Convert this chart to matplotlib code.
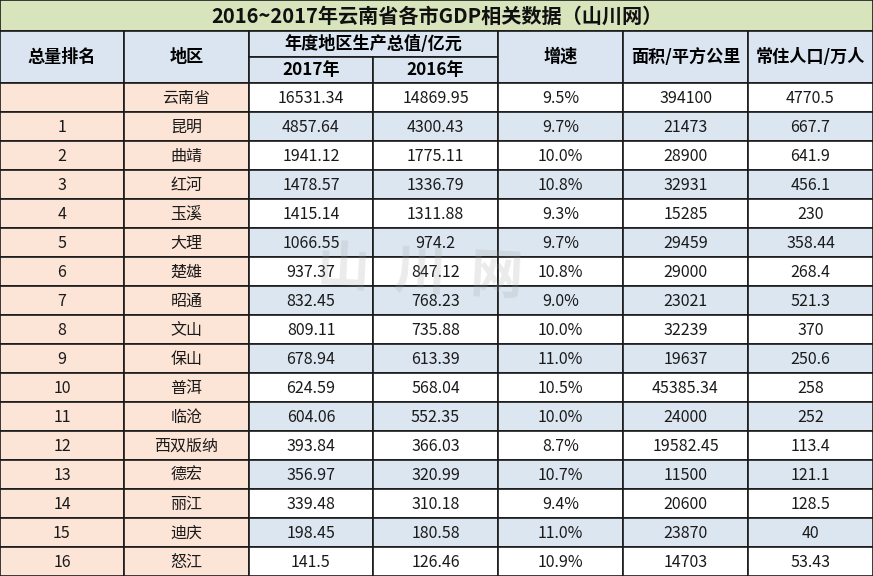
import matplotlib
matplotlib.use("Agg")
import matplotlib.pyplot as plt
from matplotlib.patches import Rectangle

plt.rcParams['font.family'] = ['Noto Sans CJK SC', 'DejaVu Sans']

# --------------------------
# Data
# --------------------------
title = "2016~2017年云南省各市GDP相关数据（山川网）"
ranks = ["", "1", "2", "3", "4", "5", "6", "7", "8", "9", "10",
         "11", "12", "13", "14", "15", "16"]
regions = ["云南省", "昆明", "曲靖", "红河", "玉溪", "大理", "楚雄", "昭通", "文山",
           "保山", "普洱", "临沧", "西双版纳", "德宏", "丽江", "迪庆", "怒江"]
gdp_2017 = ["16531.34", "4857.64", "1941.12", "1478.57", "1415.14", "1066.55",
            "937.37", "832.45", "809.11", "678.94", "624.59", "604.06",
            "393.84", "356.97", "339.48", "198.45", "141.5"]
gdp_2016 = ["14869.95", "4300.43", "1775.11", "1336.79", "1311.88", "974.2",
            "847.12", "768.23", "735.88", "613.39", "568.04", "552.35",
            "366.03", "320.99", "310.18", "180.58", "126.46"]
growth = ["9.5%", "9.7%", "10.0%", "10.8%", "9.3%", "9.7%", "10.8%", "9.0%",
          "10.0%", "11.0%", "10.5%", "10.0%", "8.7%", "10.7%", "9.4%",
          "11.0%", "10.9%"]
area = ["394100", "21473", "28900", "32931", "15285", "29459", "29000",
        "23021", "32239", "19637", "45385.34", "24000", "19582.45", "11500",
        "20600", "23870", "14703"]
population = ["4770.5", "667.7", "641.9", "456.1", "230", "358.44", "268.4",
              "521.3", "370", "250.6", "258", "252", "113.4", "121.1",
              "128.5", "40", "53.43"]

columns = [ranks, regions, gdp_2017, gdp_2016, growth, area, population]

# --------------------------
# Layout (pixel coordinates)
# --------------------------
W, H = 873, 576
col_x = [0, 124, 249, 373, 498, 623, 748, 873]
title_h = 31
head_bot = 83
head_mid = 57
row_h = (H - head_bot) / len(regions)

green = "#d8e4bc"
head_blue = "#dbe5f1"
peach = "#fce4d6"
blue = "#dce6f1"
line = "#1a1a1a"

fig = plt.figure(figsize=(W / 100, H / 100), dpi=100)
ax = fig.add_axes([0, 0, 1, 1])
ax.set_xlim(0, W)
ax.set_ylim(H, 0)
ax.axis("off")


def cell(x0, y0, x1, y1, color, lw=1.2):
    ax.add_patch(Rectangle((x0, y0), x1 - x0, y1 - y0, facecolor=color,
                           edgecolor=line, linewidth=lw))


# title row
cell(0, 0, W, title_h, green)
ax.text(W / 2, title_h / 2 + 1, title, ha="center", va="center",
        fontsize=14.5, fontweight="bold", color="#111111")

# header rows
head_fs = 12.3
cell(col_x[0], title_h, col_x[1], head_bot, head_blue)
cell(col_x[1], title_h, col_x[2], head_bot, head_blue)
cell(col_x[2], title_h, col_x[4], head_mid, head_blue)
cell(col_x[2], head_mid, col_x[3], head_bot, head_blue)
cell(col_x[3], head_mid, col_x[4], head_bot, head_blue)
for i in range(4, 7):
    cell(col_x[i], title_h, col_x[i + 1], head_bot, head_blue)

mid = (title_h + head_bot) / 2
ax.text((col_x[0] + col_x[1]) / 2, mid, "总量排名", ha="center", va="center",
        fontsize=head_fs, fontweight="bold")
ax.text((col_x[1] + col_x[2]) / 2, mid, "地区", ha="center", va="center",
        fontsize=head_fs, fontweight="bold")
ax.text((col_x[2] + col_x[4]) / 2, (title_h + head_mid) / 2, "年度地区生产总值/亿元",
        ha="center", va="center", fontsize=head_fs, fontweight="bold")
ax.text((col_x[2] + col_x[3]) / 2, (head_mid + head_bot) / 2, "2017年",
        ha="center", va="center", fontsize=head_fs, fontweight="bold")
ax.text((col_x[3] + col_x[4]) / 2, (head_mid + head_bot) / 2, "2016年",
        ha="center", va="center", fontsize=head_fs, fontweight="bold")
for i, name in zip(range(4, 7), ["增速", "面积/平方公里", "常住人口/万人"]):
    ax.text((col_x[i] + col_x[i + 1]) / 2, mid, name, ha="center",
            va="center", fontsize=head_fs, fontweight="bold")

# data rows
for r in range(len(regions)):
    y0 = head_bot + r * row_h
    y1 = y0 + row_h
    for c, values in enumerate(columns):
        if c < 2:
            bg = peach
        else:
            bg = blue if r % 2 == 1 else "white"
        cell(col_x[c], y0, col_x[c + 1], y1, bg)
        ax.text((col_x[c] + col_x[c + 1]) / 2, (y0 + y1) / 2 + 1, values[r],
                ha="center", va="center", fontsize=11.5, color="#1a1a1a")

# faint watermark
ax.text(420, 272, "山  川  网", ha="center", va="center", fontsize=38,
        color="#9a9a9a", alpha=0.2, rotation=-3, fontweight="bold")

fig.savefig("out.png", dpi=100)
